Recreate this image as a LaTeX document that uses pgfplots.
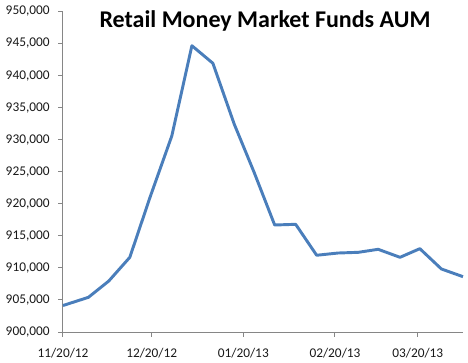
\documentclass[border=0pt]{standalone}
\usepackage{pgfplots}
\pgfplotsset{compat=1.18}
\usepackage{fontspec}
\setmainfont{Carlito}
\definecolor{exblue}{HTML}{4A7EBB}
\definecolor{axgray}{HTML}{868686}
\begin{document}
\begin{tikzpicture}
\begin{axis}[
  width=300pt, height=240.4pt, scale only axis,
  xmin=0, xmax=135.3, ymin=900000, ymax=950000,
  axis x line=bottom, axis y line=left,
  axis line style={axgray, line width=0.75pt, -},
  xtick={0,30,61,92,120},
  xticklabels={11/20/12,12/20/12,01/20/13,02/20/13,03/20/13},
  ytick={900000,905000,...,950000},
  scaled y ticks=false,
  yticklabel style={/pgf/number format/fixed, /pgf/number format/1000 sep={,}},
  /pgf/number format/assume math mode=true,
  tick style={axgray, line width=0.75pt},
  major tick length=3.5pt,
  tick align=outside,
  xtick pos=bottom, ytick pos=left,
  ticklabel style={font=\fontsize{10pt}{12pt}\selectfont, text=black!90},
  xticklabel style={yshift=-5pt},
  yticklabel style={xshift=-3pt},
  clip=false,
]
\addplot[exblue, line width=2.2pt, line join=round] coordinates {
(0,904130) (8.6,905410) (15.5,907960) (22.6,911650) (29.5,921100)
(36.8,930580) (43.6,944660) (50.7,941920) (57.9,932450) (64.6,924960)
(71.6,916690) (78.7,916800) (85.8,911970) (93,912320) (99.9,912430)
(106.6,912900) (114,911650) (120.7,913000) (128,909830) (135.3,908630)
};
\node[anchor=north, inner sep=0pt, font=\fontsize{18pt}{21pt}\selectfont\bfseries] at (rel axis cs:0.505,1.003) {Retail Money Market Funds AUM};
\end{axis}
\path (current axis.south west) ++(-47.25pt,-20.25pt) rectangle ++(351pt,269.25pt);
\end{tikzpicture}
\end{document}
